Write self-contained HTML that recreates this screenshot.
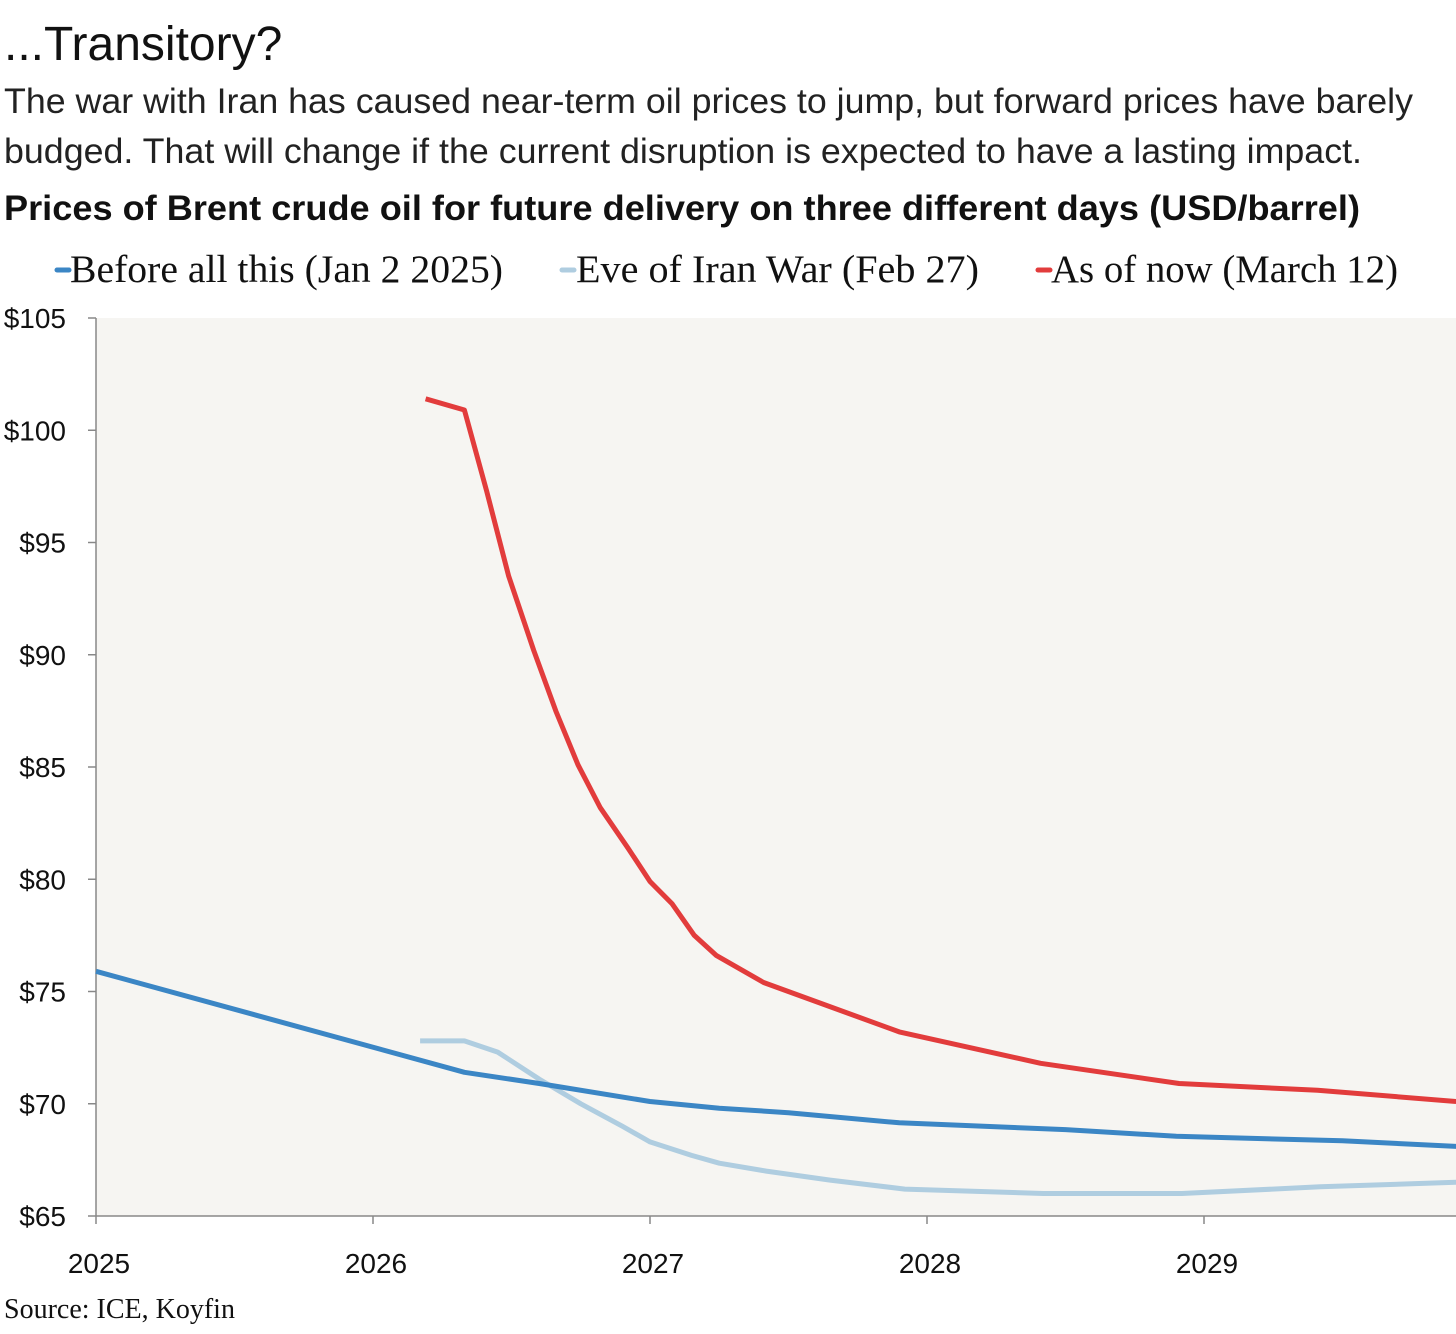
<!DOCTYPE html>
<html><head><meta charset="utf-8">
<style>
body{margin:0;background:#fff;width:1456px;height:1329px;overflow:hidden;font-family:"Liberation Sans",sans-serif;}
svg text{font-family:"Liberation Sans",sans-serif;}
</style></head><body>
<svg width="1456" height="1329" xmlns="http://www.w3.org/2000/svg">
<text x="4" y="60" font-size="48" fill="#111">...Transitory?</text>
<text x="4" y="113" font-size="35" fill="#222" textLength="1409" lengthAdjust="spacingAndGlyphs">The war with Iran has caused near-term oil prices to jump, but forward prices have barely</text>
<text x="4" y="163" font-size="35" fill="#222" textLength="1358" lengthAdjust="spacingAndGlyphs">budged. That will change if the current disruption is expected to have a lasting impact.</text>
<text x="4" y="220" font-size="35" font-weight="bold" fill="#111" textLength="1356" lengthAdjust="spacingAndGlyphs">Prices of Brent crude oil for future delivery on three different days (USD/barrel)</text>
<g>
<g><line x1="57" y1="270" x2="69" y2="270" stroke="#3b86c5" stroke-width="5" stroke-linecap="round"/><text x="70" y="282" font-size="39" fill="#111" textLength="433" lengthAdjust="spacingAndGlyphs" style="font-family:'Liberation Serif',serif">Before all this (Jan 2 2025)</text></g>
<g><line x1="562" y1="270" x2="574" y2="270" stroke="#afcde0" stroke-width="5" stroke-linecap="round"/><text x="576" y="282" font-size="39" fill="#111" textLength="403" lengthAdjust="spacingAndGlyphs" style="font-family:'Liberation Serif',serif">Eve of Iran War (Feb 27)</text></g>
<g><line x1="1038" y1="270" x2="1050" y2="270" stroke="#e23c3c" stroke-width="5" stroke-linecap="round"/><text x="1051" y="282" font-size="39" fill="#111" textLength="347" lengthAdjust="spacingAndGlyphs" style="font-family:'Liberation Serif',serif">As of now (March 12)</text></g>
</g>
<rect x="96" y="318" width="1360" height="898" fill="#f6f5f2"/>
<g id="axes"></g>
<g id="series"></g>
<text x="4" y="1318" font-size="28" fill="#111" style="font-family:'Liberation Serif',serif">Source: ICE, Koyfin</text>
</svg>
<script>
const yTicks=[65,70,75,80,85,90,95,100,105];
const xTicks=[2025,2026,2027,2028,2029];
const beforeX=[2025.0,2026.33,2026.6,2027.0,2027.25,2027.5,2027.9,2028.5,2028.9,2029.5,2029.91];
const beforeY=[75.9,71.4,70.9,70.1,69.8,69.6,69.15,68.85,68.55,68.35,68.1];
const eveX=[2026.17,2026.33,2026.45,2026.6,2026.75,2026.9,2027.0,2027.15,2027.25,2027.42,2027.65,2027.92,2028.42,2028.92,2029.42,2029.91];
const eveY=[72.8,72.8,72.3,71.1,70.0,69.0,68.3,67.7,67.35,67.0,66.6,66.2,66.0,66.0,66.3,66.5];
const nowX=[2026.19,2026.33,2026.41,2026.49,2026.58,2026.66,2026.74,2026.82,2026.92,2027.0,2027.08,2027.16,2027.24,2027.41,2027.9,2028.41,2028.91,2029.41,2029.91];
const nowY=[101.4,100.9,97.3,93.5,90.2,87.5,85.1,83.2,81.4,79.9,78.9,77.5,76.6,75.4,73.2,71.8,70.9,70.6,70.1];
const NS="http://www.w3.org/2000/svg";
const sx=v=>96+(v-2025)*277;
const sy=v=>1216-(v-65)*22.45;
const axes=document.getElementById('axes');
function mk(t,a,p){const e=document.createElementNS(NS,t);for(const k in a)e.setAttribute(k,a[k]);p.appendChild(e);return e;}
const yl=mk('line',{x1:96,y1:318,x2:96,y2:1216,stroke:'#888','stroke-width':1.5},axes);


const xl=mk('line',{x1:96,y1:1216,x2:1456,y2:1216,stroke:'#888','stroke-width':1.5},axes);


yTicks.forEach(v=>{
 const g=mk('g',{},axes);
 
 
 mk('line',{x1:88,y1:sy(v),x2:96,y2:sy(v),stroke:'#888','stroke-width':1.5},g);
 const t=mk('text',{x:66,y:sy(v)+10,'font-size':28,fill:'#111','text-anchor':'end'},g);t.textContent='$'+v;
});
xTicks.forEach(v=>{
 const g=mk('g',{},axes);
 
 
 mk('line',{x1:sx(v),y1:1216,x2:sx(v),y2:1224,stroke:'#888','stroke-width':1.5},g);
 const t=mk('text',{x:sx(v)+3,y:1273,'font-size':28,fill:'#111','text-anchor':'middle'},g);t.textContent=String(v);
});
const ser=document.getElementById('series');
function line(xs,ys,c,n){
 const d=xs.map((x,i)=>(i?'L':'M')+sx(x).toFixed(1)+','+sy(ys[i]).toFixed(1)).join('');
 const p=mk('path',{d:d,fill:'none',stroke:c,'stroke-width':5,'stroke-linejoin':'round'},ser);
 
 
}
line(eveX,eveY,'#afcde0','line-eve-of-war');
line(beforeX,beforeY,'#3b86c5','line-before-all-this');
line(nowX,nowY,'#e23c3c','line-as-of-now');
</script>
</body></html>
